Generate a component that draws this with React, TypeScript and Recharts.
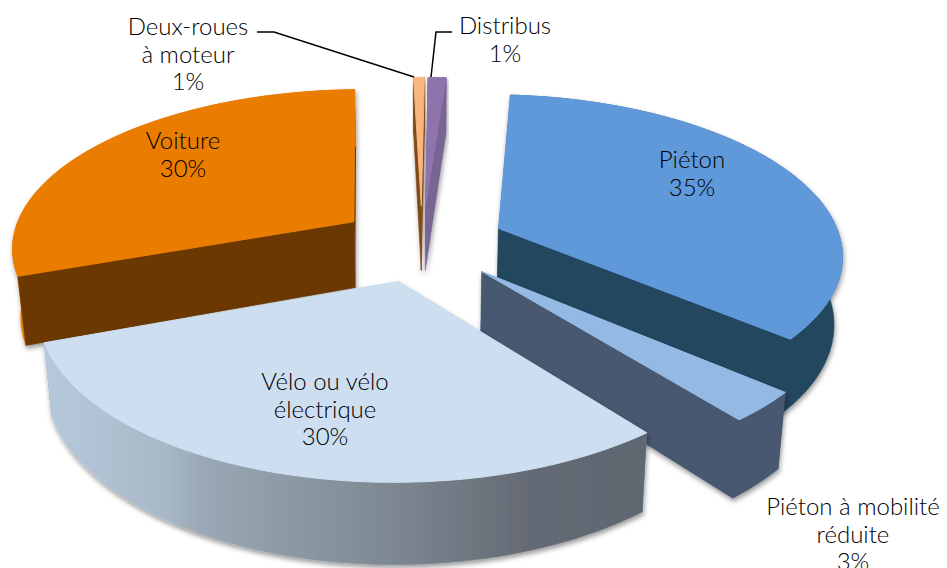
import { PieChart, Pie } from "recharts";

// draw order goes clockwise from Voiture so nearer slices paint over farther ones
const categories = ["Voiture", "Deux-roues à moteur", "Distribus", "Piéton", "Piéton à mobilité réduite", "Vélo ou vélo électrique"];
const values = [30, 0.6, 1, 35, 3, 30];

const topColors = ["#ea7d00", "#f9b67f", "#8d75ab", "#5f99da", "#94bae3", "#ccdeef"];
const cutColors = ["#6b3800", "#7d4a1a", "#786594", "#24465f", "#47586f", "#6c7884"];
const outerColors = ["#e07a00", "#7d4a1a", "#786594", "#24465f", "#47586f", "url(#veloWall)"];

const labelLines = [
  ["Voiture", "30%"],
  ["Deux-roues", "à moteur", "1%"],
  ["Distribus", "1%"],
  ["Piéton", "35%"],
  ["Piéton à mobilité", "réduite", "3%"],
  ["Vélo ou vélo", "électrique", "30%"],
];
const labelAnchors = [
  [183, 149],
  [188, 35],
  [505, 34],
  [692, 168],
  [853, 515],
  [325, 390],
];
const leaders: Record<number, string> = {
  1: "M257 32 L274 32 L414 77",
  2: "M452 32 L436 32 L431 77",
};

// fake 3D: unit disc -> screen with a bit of perspective
const RADIUS = 343;
const EXPLODE = 84;
const SQUASH = 0.46;
const PERSP = 0.15;
const DEPTH = 67;

function project(cx: number, cy: number, x: number, y: number, h: number) {
  const dn = 1 - (PERSP * y) / RADIUS;
  const sx = cx + (x / dn) * (1 - 0.02 * h);
  const sy = cy + (SQUASH * y + DEPTH * h) / dn;
  return `${sx.toFixed(1)} ${sy.toFixed(1)}`;
}

function Slice3D(props: any) {
  const { cx, cy, outerRadius, startAngle, endAngle, index } = props;
  const rad = Math.PI / 180;
  const mid = ((startAngle + endAngle) / 2) * rad;
  const ox = EXPLODE * Math.cos(mid);
  const oy = -EXPLODE * Math.sin(mid);

  const arc: [number, number][] = [];
  const steps = Math.max(2, Math.ceil(Math.abs(startAngle - endAngle) / 1.5));
  for (let i = 0; i <= steps; i++) {
    const d = (startAngle + ((endAngle - startAngle) * i) / steps) * rad;
    arc.push([ox + outerRadius * Math.cos(d), oy - outerRadius * Math.sin(d)]);
  }
  const at = (p: [number, number], h: number) => project(cx, cy, p[0], p[1], h);
  const tip: [number, number] = [ox, oy];
  const first = arc[0];
  const last = arc[arc.length - 1];

  const top = `M${at(tip, 0)} ` + arc.map((p) => `L${at(p, 0)}`).join(" ") + " Z";
  const outer =
    `M${at(first, 0)} ` +
    arc.map((p) => `L${at(p, 0)}`).join(" ") +
    " " +
    [...arc].reverse().map((p) => `L${at(p, 1)}`).join(" ") +
    " Z";
  const cut = (p: [number, number]) => `M${at(tip, 0)} L${at(p, 0)} L${at(p, 1)} L${at(tip, 1)} Z`;

  const startFront = -Math.cos(startAngle * rad) > 0;
  const endFront = Math.cos(endAngle * rad) > 0;
  const cutFill = cutColors[index];

  return (
    <g filter="url(#softShadow)">
      {!startFront && <path d={cut(first)} fill={cutFill} />}
      {!endFront && <path d={cut(last)} fill={cutFill} />}
      <path d={outer} fill={outerColors[index]} stroke={outerColors[index]} strokeWidth={0.6} />
      {startFront && <path d={cut(first)} fill={cutFill} stroke={cutFill} strokeWidth={0.6} />}
      {endFront && <path d={cut(last)} fill={cutFill} stroke={cutFill} strokeWidth={0.6} />}
      <path d={top} fill={topColors[index]} stroke={topColors[index]} strokeWidth={1} />
    </g>
  );
}

function SliceLabel(props: any) {
  const { index } = props;
  const [x, y] = labelAnchors[index];
  return (
    <g>
      {leaders[index] && <path d={leaders[index]} fill="none" stroke="#000" strokeWidth={1.5} />}
      <text x={x} y={y} textAnchor="middle" fontFamily="Lato" fontWeight={300} fontSize={24} fill="#000">
        {labelLines[index].map((line, i) => (
          <tspan key={i} x={x} dy={i === 0 ? 0 : 27.5}>
            {line}
          </tspan>
        ))}
      </text>
    </g>
  );
}

const data = categories.map((name, i) => ({ name, value: values[i] }));

export default function App() {
  return (
    <div style={{ position: "absolute", left: 0, top: 0, width: 947, height: 568, background: "#fff" }}>
      <PieChart width={947} height={568} margin={{ top: 0, right: 0, bottom: 0, left: 0 }}>
        <defs>
          <linearGradient id="veloWall" gradientUnits="userSpaceOnUse" x1="45" y1="0" x2="650" y2="0">
            <stop offset="0" stopColor="#b6c9dc" />
            <stop offset="0.2" stopColor="#a8b8c7" />
            <stop offset="0.26" stopColor="#9aa8b5" />
            <stop offset="0.58" stopColor="#7c8791" />
            <stop offset="0.8" stopColor="#646a74" />
            <stop offset="1" stopColor="#5e6871" />
          </linearGradient>
          <filter id="softShadow" x="-10%" y="-10%" width="120%" height="120%">
            <feDropShadow dx="1" dy="3" stdDeviation="2.5" floodColor="#000" floodOpacity="0.4" />
          </filter>
        </defs>
        <Pie
          data={data}
          dataKey="value"
          nameKey="name"
          cx={422}
          cy={243}
          innerRadius={0}
          outerRadius={RADIUS}
          startAngle={200}
          endAngle={-160}
          paddingAngle={0}
          stroke="none"
          shape={Slice3D}
          label={SliceLabel}
          labelLine={false}
          isAnimationActive={false}
        />
      </PieChart>
    </div>
  );
}
